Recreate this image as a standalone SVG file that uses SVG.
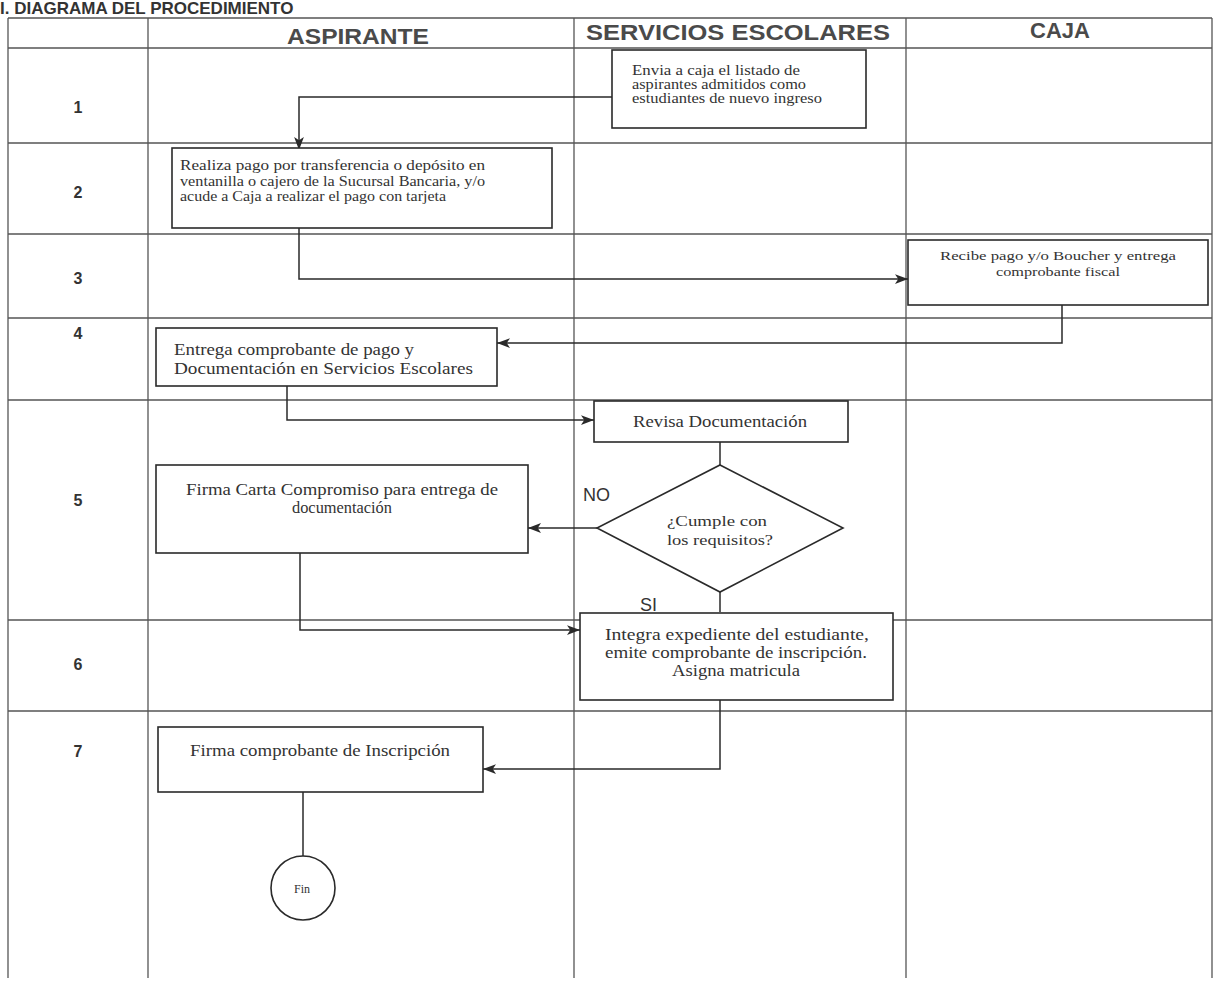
<svg xmlns="http://www.w3.org/2000/svg" width="1215" height="981" viewBox="0 0 1215 981">
<style>
.grid{stroke:#555;stroke-width:1.3;fill:none}
.box{fill:#fff;stroke:#2a2a2a;stroke-width:1.6}
.conn{stroke:#2a2a2a;stroke-width:1.5;fill:none}
.hdr{font-family:"Liberation Sans",Arial,sans-serif;font-size:22px;font-weight:bold;fill:#4a4a4a;text-anchor:middle}
.num{font-family:"Liberation Sans",Arial,sans-serif;font-size:16px;font-weight:bold;fill:#333;text-anchor:middle}
.t{font-family:"Liberation Serif","Times New Roman",serif;fill:#333}
.lbl{font-family:"Liberation Sans",Arial,sans-serif;font-size:18px;fill:#333}
</style>
<defs>
<marker id="arr" viewBox="0 0 12 10" refX="12" refY="5" markerWidth="13" markerHeight="11" markerUnits="userSpaceOnUse" orient="auto">
<path d="M0,0.5 L12,5 L0,9.5 L3,5 Z" fill="#2a2a2a"/>
</marker>
</defs>
<rect width="1215" height="981" fill="#fff"/>
<text x="0" y="14" font-family="Liberation Sans,Arial,sans-serif" font-size="17" font-weight="bold" fill="#333">I. DIAGRAMA DEL PROCEDIMIENTO</text>
<g id="table">
<line class="grid" x1="8" y1="18" x2="1212" y2="18"/>
<line class="grid" x1="8" y1="48" x2="1212" y2="48"/>
<line class="grid" x1="8" y1="143" x2="1212" y2="143"/>
<line class="grid" x1="8" y1="234" x2="1212" y2="234"/>
<line class="grid" x1="8" y1="318" x2="1212" y2="318"/>
<line class="grid" x1="8" y1="400" x2="1212" y2="400"/>
<line class="grid" x1="8" y1="620" x2="1212" y2="620"/>
<line class="grid" x1="8" y1="711" x2="1212" y2="711"/>
<line class="grid" x1="8" y1="18" x2="8" y2="978"/>
<line class="grid" x1="148" y1="18" x2="148" y2="978"/>
<line class="grid" x1="574" y1="18" x2="574" y2="978"/>
<line class="grid" x1="906" y1="18" x2="906" y2="978"/>
<line class="grid" x1="1212" y1="18" x2="1212" y2="978"/>
<text class="hdr" x="358" y="44" textLength="142" lengthAdjust="spacingAndGlyphs">ASPIRANTE</text>
<text class="hdr" x="738" y="40" textLength="304" lengthAdjust="spacingAndGlyphs">SERVICIOS ESCOLARES</text>
<text class="hdr" x="1060" y="38">CAJA</text>
<text class="num" x="78" y="113">1</text>
<text class="num" x="78" y="198">2</text>
<text class="num" x="78" y="284">3</text>
<text class="num" x="78" y="339">4</text>
<text class="num" x="78" y="506">5</text>
<text class="num" x="78" y="670">6</text>
<text class="num" x="78" y="757">7</text>
</g>
<g id="connectors">
<polyline class="conn" points="612,97 299,97 299,150" marker-end="url(#arr)"/>
<polyline class="conn" points="299,228 299,279 908,279" marker-end="url(#arr)"/>
<polyline class="conn" points="1062,305 1062,343 497,343" marker-end="url(#arr)"/>
<polyline class="conn" points="287,386 287,420 594,420" marker-end="url(#arr)"/>
<line class="conn" x1="720" y1="442" x2="720" y2="465"/>
<line class="conn" x1="597" y1="528" x2="528" y2="528" marker-end="url(#arr)"/>
<line class="conn" x1="720" y1="592" x2="720" y2="612"/>
<polyline class="conn" points="300,553 300,630 580,630" marker-end="url(#arr)"/>
<polyline class="conn" points="720,700 720,769 483,769" marker-end="url(#arr)"/>
<line class="conn" x1="303" y1="792" x2="303" y2="856"/>
</g>
<g id="n1">
<rect class="box" x="612" y="50" width="254" height="78"/>
<text class="t" font-size="14"><tspan x="632" y="75" textLength="168" lengthAdjust="spacingAndGlyphs">Envia a caja el listado de</tspan><tspan x="632" y="89" textLength="174" lengthAdjust="spacingAndGlyphs">aspirantes admitidos como</tspan><tspan x="632" y="103" textLength="190" lengthAdjust="spacingAndGlyphs">estudiantes de nuevo ingreso</tspan></text>
</g>
<g id="n2">
<rect class="box" x="172" y="148" width="380" height="80"/>
<text class="t" font-size="14"><tspan x="180" y="170" textLength="305" lengthAdjust="spacingAndGlyphs">Realiza pago por transferencia o depósito en</tspan><tspan x="180" y="186" textLength="305" lengthAdjust="spacingAndGlyphs">ventanilla o cajero de la Sucursal Bancaria, y/o</tspan><tspan x="180" y="201" textLength="266" lengthAdjust="spacingAndGlyphs">acude a Caja a realizar el pago con tarjeta</tspan></text>
</g>
<g id="n3">
<rect class="box" x="908" y="240" width="300" height="65"/>
<text class="t" font-size="13.5" text-anchor="middle"><tspan x="1058" y="260" textLength="236" lengthAdjust="spacingAndGlyphs">Recibe pago y/o Boucher y entrega</tspan><tspan x="1058" y="276" textLength="124" lengthAdjust="spacingAndGlyphs">comprobante fiscal</tspan></text>
</g>
<g id="n4">
<rect class="box" x="156" y="328" width="341" height="58"/>
<text class="t" font-size="16"><tspan x="174" y="355" textLength="240" lengthAdjust="spacingAndGlyphs">Entrega comprobante de pago y</tspan><tspan x="174" y="374" textLength="299" lengthAdjust="spacingAndGlyphs">Documentación en Servicios Escolares</tspan></text>
</g>
<g id="n5">
<rect class="box" x="594" y="401" width="254" height="41"/>
<text class="t" font-size="16" text-anchor="middle" x="720" y="427" textLength="174" lengthAdjust="spacingAndGlyphs">Revisa Documentación</text>
</g>
<g id="n6">
<polygon class="box" points="720,465 843,528 720,592 597,528"/>
<text class="t" font-size="15.5" text-anchor="middle"><tspan x="717" y="526" textLength="100" lengthAdjust="spacingAndGlyphs">¿Cumple con</tspan><tspan x="720" y="545" textLength="106" lengthAdjust="spacingAndGlyphs">los requisitos?</tspan></text>
<text class="lbl" x="583" y="501">NO</text>
<text class="lbl" x="640" y="611">SI</text>
</g>
<g id="n7">
<rect class="box" x="156" y="465" width="372" height="88"/>
<text class="t" font-size="16" text-anchor="middle"><tspan x="342" y="495" textLength="312" lengthAdjust="spacingAndGlyphs">Firma Carta Compromiso para entrega de</tspan><tspan x="342" y="513" textLength="100" lengthAdjust="spacingAndGlyphs">documentación</tspan></text>
</g>
<g id="n8">
<rect class="box" x="580" y="613" width="313" height="87"/>
<text class="t" font-size="16" text-anchor="middle"><tspan x="737" y="640" textLength="264" lengthAdjust="spacingAndGlyphs">Integra expediente del estudiante,</tspan><tspan x="736" y="658" textLength="262" lengthAdjust="spacingAndGlyphs">emite comprobante de inscripción.</tspan><tspan x="736" y="676" textLength="128" lengthAdjust="spacingAndGlyphs">Asigna matricula</tspan></text>
</g>
<g id="n9">
<rect class="box" x="158" y="727" width="325" height="65"/>
<text class="t" font-size="16" text-anchor="middle" x="320" y="756" textLength="260" lengthAdjust="spacingAndGlyphs">Firma comprobante de Inscripción</text>
</g>
<g id="n10">
<circle class="box" cx="303" cy="888" r="32"/>
<text class="t" font-size="12" text-anchor="middle" x="302" y="893">Fin</text>
</g>
</svg>
